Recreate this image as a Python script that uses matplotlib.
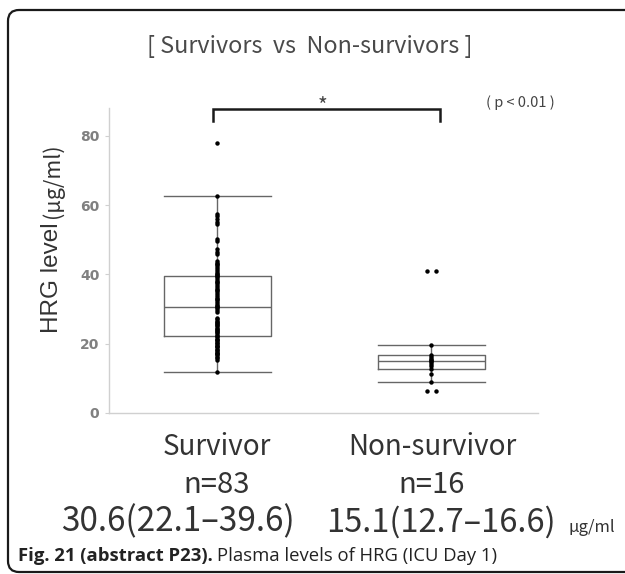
import matplotlib
matplotlib.use("Agg")
import matplotlib.pyplot as plt
from matplotlib.path import Path
from matplotlib.patches import PathPatch
import numpy as np

# ---------------- data ----------------
groups = ["Survivor", "Non-survivor"]
n_labels = ["n=83", "n=16"]
median_labels = ["30.6(22.1\u201339.6)", "15.1(12.7\u201316.6)"]

survivor_values = [78.0, 62.6, 57.4, 56.8, 56.0, 55.2, 54.5, 50.1, 49.6, 47.2, 46.5, 45.8,
                   44.0, 43.4, 43.0, 42.8, 42.2, 41.6, 41.0, 40.5, 40.0, 39.9, 39.6, 39.2,
                   38.6, 38.0, 37.8, 37.5, 37.0, 36.4, 35.8, 35.5, 35.2, 34.6, 34.0, 33.5,
                   33.0, 32.8, 32.4, 31.8, 31.2, 30.9, 30.6, 30.2, 29.6, 29.0,
                   27.5, 27.0, 26.6, 26.2, 26.0, 25.8, 25.4, 25.0, 24.6, 24.2, 24.0, 23.8,
                   23.4, 23.0, 22.6, 22.1, 21.8, 21.4, 21.2, 21.0, 20.6, 20.2, 19.8, 19.4,
                   19.2, 19.0, 18.6, 18.2, 17.8, 17.4, 17.2, 17.0, 16.6, 16.2, 15.8, 15.4,
                   11.9]
nonsurvivor_values = [41.0, 41.0, 19.7, 16.8, 16.2, 15.7, 15.3, 15.1, 14.7, 14.2, 13.6,
                      12.7, 11.2, 9.0, 6.4, 6.4]

# box statistics (median, quartiles, whiskers)
box_med = [30.6, 15.1]
box_q1 = [22.1, 12.8]
box_q3 = [39.6, 16.6]
box_whislo = [11.9, 9.0]
box_whishi = [62.6, 19.7]

yticks = [0, 20, 40, 60, 80]

# ---------------- figure ----------------
W, H = 625, 574
fig = plt.figure(figsize=(W / 100, H / 100), dpi=100)
fig.patch.set_facecolor("white")

# overlay in pixel coords
ov = fig.add_axes([0, 0, 1, 1], zorder=0)
ov.set_xlim(0, W)
ov.set_ylim(H, 0)
ov.axis("off")

# open frame: rounded on the left, running off the right edge
r = 11
L, T, B, R = 8, 10, 572, 640
verts = [(R, T), (L + r, T), (L, T), (L, T + r), (L, B - r), (L, B), (L + r, B), (R, B)]
codes = [Path.MOVETO, Path.LINETO, Path.CURVE3, Path.CURVE3, Path.LINETO,
         Path.CURVE3, Path.CURVE3, Path.LINETO]
ov.add_patch(PathPatch(Path(verts, codes), facecolor="none", edgecolor="#1a1a1a",
                       linewidth=1.6, clip_on=False))

cjk = ["Noto Sans CJK JP", "DejaVu Sans"]

ax = fig.add_axes([109 / W, 1 - 413 / H, (538 - 109) / W, (413 - 108) / H], zorder=1)
ax.patch.set_alpha(0)
ax.set_xlim(0.495, 2.5)
ax.set_ylim(0, 88)

positions = [1, 2]
stats = []
for i in range(2):
    stats.append(dict(med=box_med[i], q1=box_q1[i], q3=box_q3[i],
                      whislo=box_whislo[i], whishi=box_whishi[i], fliers=[]))
lc = "#666666"
ax.bxp(stats, positions=positions, widths=0.5, capwidths=0.5, showfliers=False,
       boxprops=dict(color=lc, linewidth=1.0),
       medianprops=dict(color=lc, linewidth=1.0),
       whiskerprops=dict(color=lc, linewidth=1.0),
       capprops=dict(color=lc, linewidth=1.0))

def offsets(vals, step=0.042):
    vals = np.asarray(vals)
    off = np.zeros(len(vals))
    for v in np.unique(vals):
        idx = np.where(vals == v)[0]
        n = len(idx)
        off[idx] = (np.arange(n) - (n - 1) / 2) * step
    return off

for pos, vals in zip(positions, [survivor_values, nonsurvivor_values]):
    xs = pos + offsets(vals)
    ax.plot(xs, vals, "o", color="black", markersize=3.2, markeredgewidth=0, zorder=3)

for s in ["top", "right"]:
    ax.spines[s].set_visible(False)
for s in ["left", "bottom"]:
    ax.spines[s].set_color("#d0d0d0")
    ax.spines[s].set_linewidth(1.0)
ax.set_xticks([])
ax.set_yticks(yticks)
ax.set_yticklabels([str(t) for t in yticks], fontsize=10, color="#808080",
                   fontweight="bold", family="DejaVu Sans")
ax.tick_params(axis="y", length=3, color="#d0d0d0", pad=4)

# significance bracket
ax.plot([0.98, 0.98, 2.04, 2.04], [84.3, 87.8, 87.8, 84.3], color="#1a1a1a",
        linewidth=1.8, clip_on=False, solid_joinstyle="miter")

# ---------------- texts (pixel coords) ----------------
ov.text(310, 46, "[ Survivors  vs  Non-survivors ]", ha="center", va="center",
        fontsize=16.8, color="#4a4a4a", family=cjk)
ov.text(323, 107, "*", ha="center", va="center", fontsize=15, color="#444444", family=cjk)
ov.text(520, 103, "( p < 0.01 )", ha="center", va="center", fontsize=10.5,
        color="#444444", family=cjk)

ov.text(58, 333, "HRG level", rotation=90, ha="left", va="baseline",
        rotation_mode="anchor", fontsize=17.5, color="#333333", family="Liberation Sans")
ov.text(59, 218, "(\u03bcg/ml)", rotation=90, ha="left", va="baseline",
        rotation_mode="anchor", fontsize=15.5, color="#333333", family=cjk)

xc = [217, 432]
for i in range(2):
    ov.text(xc[i], 447, groups[i], ha="center", va="center", fontsize=20,
            color="#333333", family=cjk)
    ov.text(xc[i], 485, n_labels[i], ha="center", va="center", fontsize=21,
            color="#333333", family=cjk)
ov.text(178, 522, median_labels[0], ha="center", va="center", fontsize=24,
        color="#333333", family=cjk)
ov.text(441, 522, median_labels[1], ha="center", va="center", fontsize=23.5,
        color="#333333", family=cjk)
ov.text(568, 527, "\u03bcg/ml", ha="left", va="center", fontsize=12,
        color="#333333", family=cjk)

t1 = ov.text(18, 556, "Fig. 21 (abstract P23).", ha="left", va="center", fontsize=13.3,
             fontweight="bold", color="#222222", family="Open Sans")
fig.canvas.draw()
bb = t1.get_window_extent()
x_end = bb.x1
ov.text(x_end + 4, 556, "Plasma levels of HRG (ICU Day 1)", ha="left", va="center",
        fontsize=13.3, color="#222222", family="Open Sans")

fig.savefig("out.png", dpi=100, facecolor="white")
